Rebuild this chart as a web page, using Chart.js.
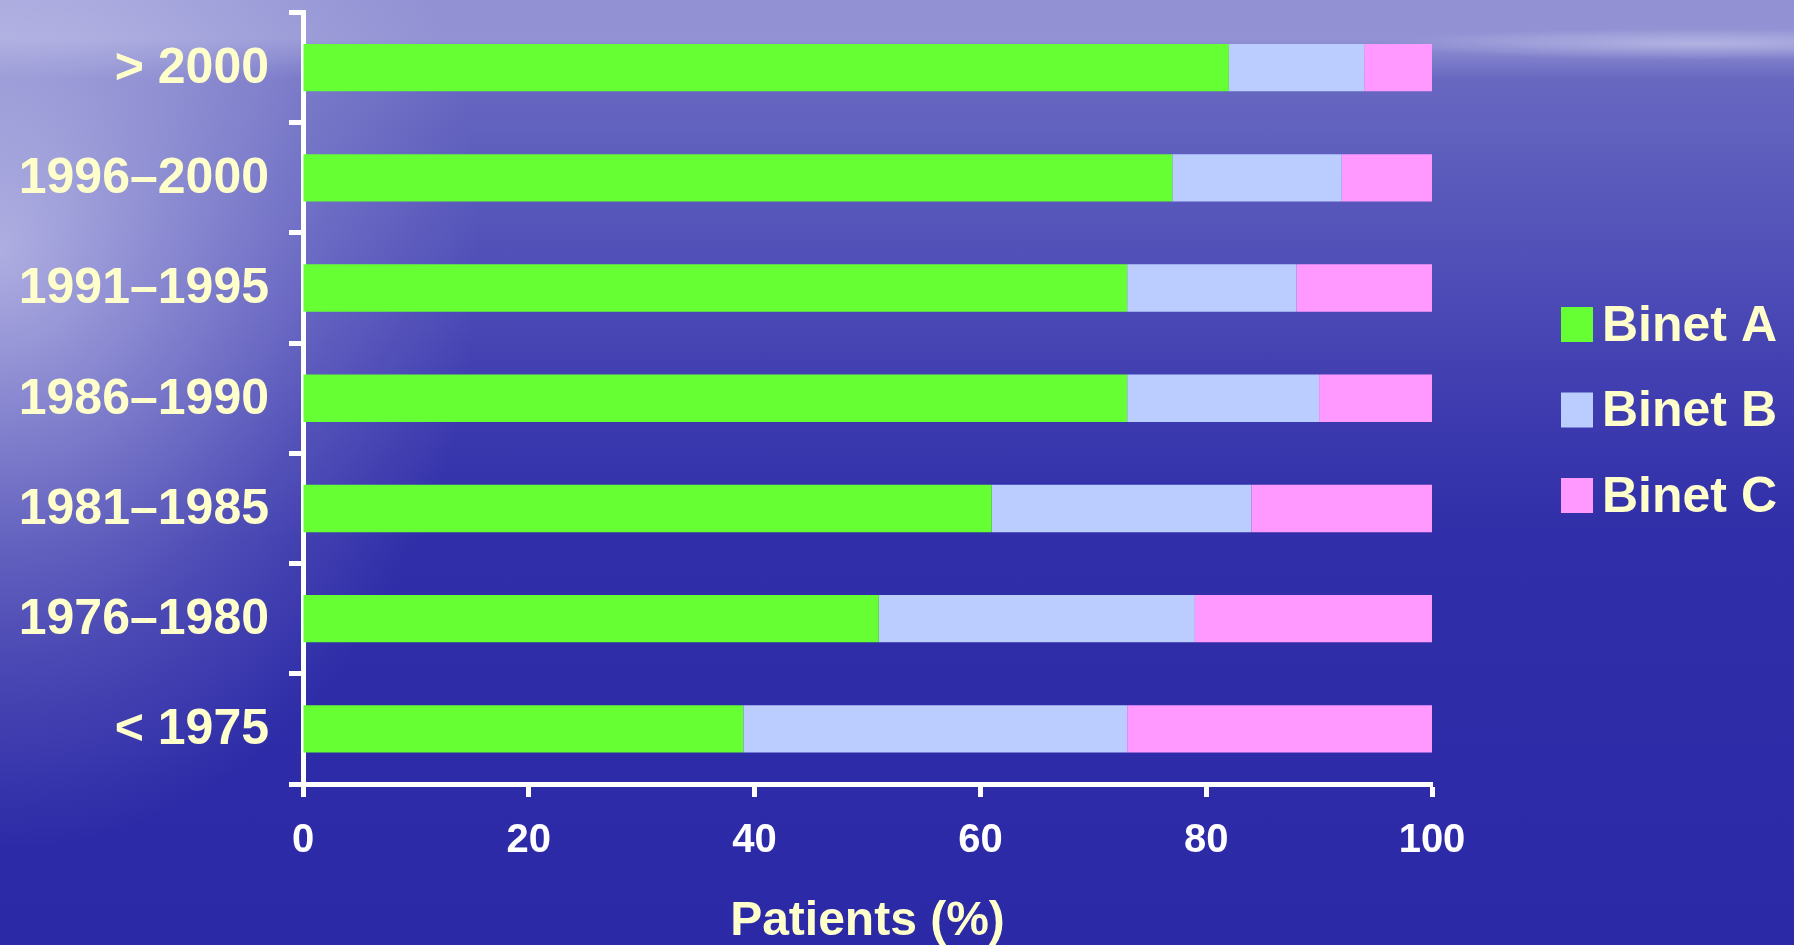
<!DOCTYPE html>
<html>
<head>
<meta charset="utf-8">
<title>Binet stage at diagnosis by period</title>
<script src="https://cdn.jsdelivr.net/npm/chart.js@4.4.1/dist/chart.umd.min.js"></script>
<style>
  html, body { margin: 0; padding: 0; }
  body {
    width: 1794px;
    height: 945px;
    overflow: hidden;
    background:
      radial-gradient(ellipse 320px 16px at 1700px 44px, rgba(235,235,252,0.40) 0%, rgba(235,235,252,0) 100%),
      radial-gradient(ellipse 480px 600px at 0px 250px, rgba(236,236,252,0.60) 0%, rgba(228,228,249,0.38) 35%, rgba(224,224,247,0.16) 68%, rgba(220,220,245,0) 100%),
      linear-gradient(to bottom, rgba(205,205,240,0.22) 0px, rgba(210,210,242,0.32) 38px, rgba(210,210,240,0) 78px),
      linear-gradient(to bottom, #8080cc 0px, #7676c7 30px, #6868c1 80px, #5a5abc 180px, #4c4ab6 300px, #3c3aae 420px, #302ea8 540px, #2b29a6 945px);
  }
  canvas { display: block; }
</style>
</head>
<body>
<canvas id="chart" width="1794" height="945"></canvas>
<script>
// Diagnosis period (top to bottom)
const periods = ['> 2000', '1996–2000', '1991–1995', '1986–1990', '1981–1985', '1976–1980', '< 1975'];

// Share of patients in each Binet stage (%)
const binetA = [82, 77, 73, 73, 61, 51, 39];
const binetB = [12, 15, 15, 17, 23, 28, 34];
const binetC = [6, 8, 12, 10, 16, 21, 27];

const seriesNames = ['Binet A', 'Binet B', 'Binet C'];
const seriesColors = ['#66FF33', '#BBCCFF', '#FF99FF'];

const xTickValues = [0, 20, 40, 60, 80, 100];
const xTitle = 'Patients (%)';

const FONT = '"Liberation Sans", Arial, Helvetica, sans-serif';
const CREAM = '#FFFFCC';

// Legend column to the right of the plot
const sideLegend = {
  id: 'sideLegend',
  afterDraw(chart) {
    const { ctx } = chart;
    ctx.save();
    ctx.font = 'bold 50px ' + FONT;
    ctx.textBaseline = 'middle';
    ctx.textAlign = 'left';
    chart.data.datasets.forEach((ds, i) => {
      const yc = 324.5 + i * 85.5;
      ctx.fillStyle = ds.backgroundColor;
      ctx.fillRect(1561, yc - 17.5, 32, 35);
      ctx.fillStyle = CREAM;
      ctx.fillText(ds.label, 1602, yc + 2.5);
    });
    ctx.restore();
  }
};

const seriesData = [binetA, binetB, binetC];

new Chart(document.getElementById('chart'), {
  type: 'bar',
  data: {
    labels: periods,
    datasets: seriesNames.map((name, i) => ({
      label: name,
      data: seriesData[i],
      backgroundColor: seriesColors[i],
      borderWidth: 0,
      barPercentage: 0.43,
      categoryPercentage: 1
    }))
  },
  options: {
    indexAxis: 'y',
    responsive: false,
    animation: false,
    devicePixelRatio: 1,
    layout: { padding: { top: 12.5, right: 362, bottom: 0, left: 0 } },
    plugins: {
      legend: { display: false },
      tooltip: { enabled: false }
    },
    scales: {
      x: {
        stacked: true,
        min: 0,
        max: 100,
        afterBuildTicks: s => { s.ticks = xTickValues.map(v => ({ value: v })); },
        afterFit: s => { s.height = 161; s.paddingLeft = 0; s.paddingRight = 0; },
        border: { display: true, color: '#FFFFFF', width: 5 },
        grid: {
          drawOnChartArea: false,
          drawTicks: true,
          tickLength: 13,
          tickWidth: 5,
          tickColor: '#FFFFFF',
          color: '#FFFFFF'
        },
        ticks: {
          color: '#FFFFFF',
          padding: 23.5,
          maxRotation: 0,
          font: { family: FONT, size: 40, weight: 'bold', lineHeight: 1 }
        },
        title: {
          display: true,
          text: xTitle,
          color: CREAM,
          padding: { top: 0, bottom: -0.5 },
          font: { family: FONT, size: 48, weight: 'bold', lineHeight: 1 }
        }
      },
      y: {
        stacked: true,
        z: 1,
        afterFit: s => { s.width = 303; s.paddingTop = 0; s.paddingBottom = 0; },
        border: { display: true, color: '#FFFFFF', width: 5 },
        grid: {
          offset: true,
          drawOnChartArea: false,
          drawTicks: true,
          tickLength: 14,
          tickWidth: 5,
          tickColor: '#FFFFFF',
          color: '#FFFFFF'
        },
        ticks: {
          color: CREAM,
          padding: 20,
          labelOffset: 1.5,
          font: { family: FONT, size: 50, weight: 'bold', lineHeight: 1 }
        }
      }
    }
  },
  plugins: [sideLegend]
});
</script>
</body>
</html>
